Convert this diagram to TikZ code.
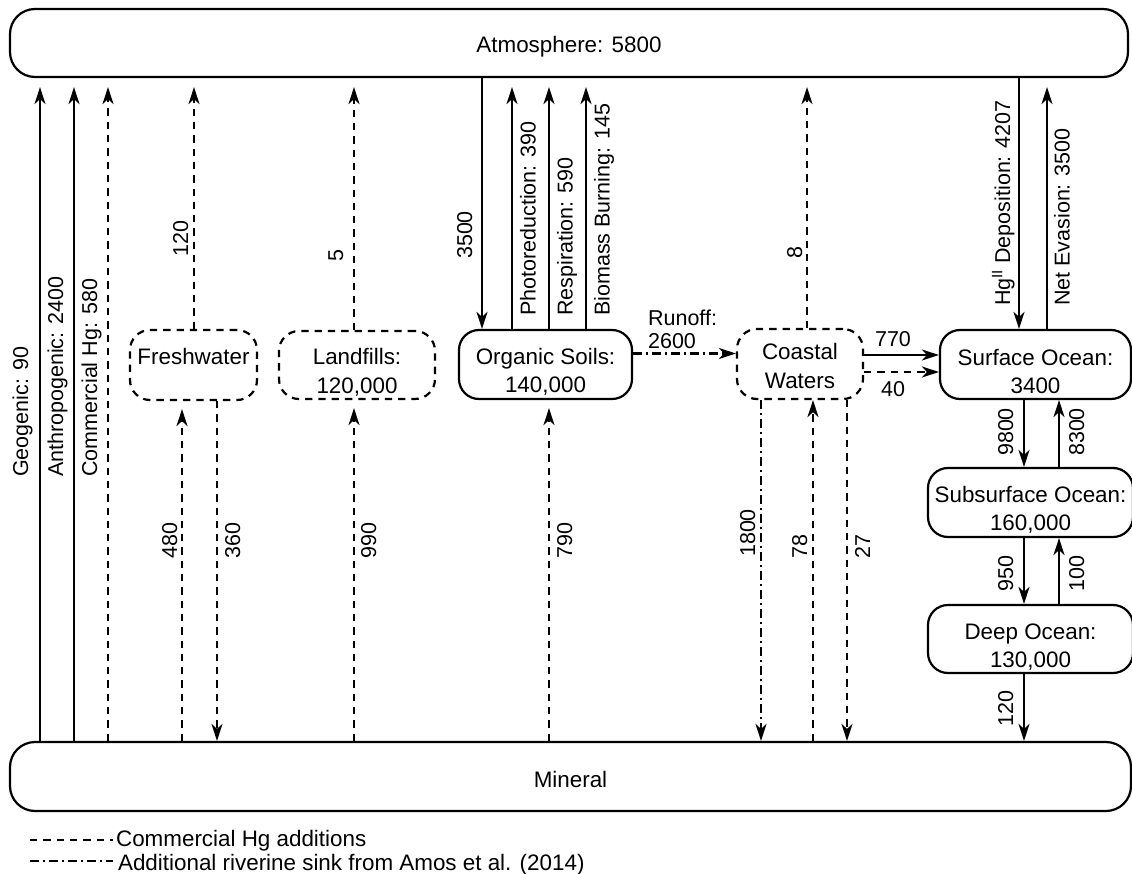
\documentclass[tikz,border=0pt]{standalone}
\usepackage{fontspec}
\setmainfont{Liberation Sans}
\usetikzlibrary{arrows.meta}

\newcommand{\poolfont}{\fontsize{22.4}{28.5}\selectfont}
\newcommand{\fluxfont}{\fontsize{21.5}{23}\selectfont}
\newcommand{\pooldrop}[1]{\rule{0pt}{#1}}

\begin{document}
\begin{tikzpicture}[x=1pt, y=-1pt, line width=2.2pt,
        pool/.style={draw, rounded corners=20pt, align=center, inner sep=0pt, font=\poolfont},
        soft/.style={dash pattern=on 7.3pt off 6pt},
        riv/.style={dash pattern=on 9pt off 4pt on 2pt off 4pt},
        flow/.style={-{Stealth[length=17pt, width=11pt, inset=5pt]}},
        gap/.style={shorten >=9pt},
        lbl left/.style={rotate=90, anchor=base west, inner sep=0pt, font=\fluxfont},
        lbl right/.style={rotate=90, anchor=north west, inner sep=0pt, font=\fluxfont}]
    \useasboundingbox (0,0) rectangle (1132,874);

    % reservoirs
    \node[pool, rounded corners=25pt, minimum width=1118pt, minimum height=68pt] (atm) at (569,43) {\pooldrop{24pt}Atmosphere: 5800};
    \node[pool, rounded corners=25pt, minimum width=1121pt, minimum height=69pt] (min) at (570.5,776.5) {\pooldrop{23pt}Mineral};
    \node[pool, soft, minimum width=127pt, minimum height=70pt] (fw) at (193.5,365) {\pooldrop{28pt}Freshwater\\~};
    \node[pool, soft, minimum width=156pt, minimum height=68pt] (lf) at (357,365) {\pooldrop{31pt}Landfills:\\120,000};
    \node[pool, minimum width=173pt, minimum height=69pt] (org) at (545.5,364.5) {\pooldrop{31pt}Organic Soils:\\140,000};
    \node[pool, soft, minimum width=126pt, minimum height=70pt] (cw) at (800,364) {\pooldrop{20pt}Coastal\\Waters};
    \node[pool, minimum width=191pt, minimum height=69pt] (so) at (1035.5,364.5) {\pooldrop{30pt}Surface Ocean:\\3400};
    \node[pool, minimum width=205pt, minimum height=69pt] (sso) at (1030.5,502.5) {\pooldrop{31pt}Subsurface Ocean:\\160,000};
    \node[pool, minimum width=205pt, minimum height=68pt] (deep) at (1030.5,639) {\pooldrop{32pt}Deep Ocean:\\130,000};

    % emissions up to the atmosphere
    \draw[flow, gap] (min.north -| 40,0) -- (atm.south -| 40,0);
    \draw[flow, gap] (min.north -| 74,0) -- (atm.south -| 74,0);
    \draw[flow, gap, soft] (min.north -| 108,0) -- (atm.south -| 108,0);
    \node[lbl left] (geo) at (28,478) {Geogenic: 90};
    \node[lbl left] (anth) at (63,478) {Anthropogenic: 2400};
    \node[lbl left] (comm) at (97,478) {Commercial Hg: 580};

    % freshwater
    \draw[flow, gap, soft] (fw.north -| 194,0) -- (atm.south -| 194,0);
    \draw[flow, shorten >=8pt, soft] (min.north -| 182,0) -- (fw.south -| 182,0);
    \draw[flow, soft] (fw.south -| 217,0) -- (min.north -| 217,0);
    \node[lbl left] (fwup) at (188,258) {120};
    \node[lbl left] (fwin) at (177,560) {480};
    \node[lbl right] (fwout) at (224,560) {360};

    % landfills
    \draw[flow, gap, soft] (lf.north -| 354,0) -- (atm.south -| 354,0);
    \draw[flow, shorten >=8pt, soft] (min.north -| 354,0) -- (lf.south -| 354,0);
    \node[lbl left] (lfup) at (343,263) {5};
    \node[lbl right] (lfin) at (360,560) {990};

    % organic soils
    \draw[flow] (atm.south -| 482,0) -- (org.north -| 482,0);
    \draw[flow, gap] (org.north -| 512,0) -- (atm.south -| 512,0);
    \draw[flow, gap] (org.north -| 549,0) -- (atm.south -| 549,0);
    \draw[flow, gap] (org.north -| 586,0) -- (atm.south -| 586,0);
    \draw[flow, shorten >=8pt, soft] (min.north -| 549,0) -- (org.south -| 549,0);
    \node[lbl left] (dep) at (472,260) {3500};
    \node[lbl right] (photo) at (519,317) {Photoreduction: 390};
    \node[lbl right] (resp) at (556,317) {Respiration: 590};
    \node[lbl right] (burn) at (593,317) {Biomass Burning: 145};
    \node[lbl right] (orgin) at (556,560) {790};

    % runoff
    \draw[flow, riv] ([yshift=11pt]org.east) -- ([yshift=11pt]org.east -| cw.west);
    \node[anchor=north west, align=left, inner sep=0pt, font=\fluxfont] (run) at (647,309) {Runoff:\\2600};

    % coastal waters
    \draw[flow, gap, soft] (cw.north -| 807,0) -- (atm.south -| 807,0);
    \draw[flow] ([yshift=9pt]cw.east) -- ([yshift=9pt]cw.east -| so.west);
    \draw[flow, soft] ([yshift=-8pt]cw.east) -- ([yshift=-8pt]cw.east -| so.west);
    \draw[flow, riv] (cw.south -| 761,0) -- (min.north -| 761,0);
    \draw[flow, soft] (min.north -| 813,0) -- (cw.south -| 813,0);
    \draw[flow, soft] (cw.south -| 847,0) -- (min.north -| 847,0);
    \node[lbl left] (cwup) at (802,260) {8};
    \node[anchor=base, inner sep=0pt, font=\fluxfont] (toso) at (893,347) {770};
    \node[anchor=north, inner sep=0pt, font=\fluxfont] (toso2) at (893,380) {40};
    \node[lbl left] (riv) at (755,558) {1800};
    \node[lbl left] (cwin) at (807,560) {78};
    \node[lbl right] (cwout) at (854,560) {27};

    % ocean
    \draw[flow] (atm.south -| 1019,0) -- (so.north -| 1019,0);
    \draw[flow, gap] (so.north -| 1047,0) -- (atm.south -| 1047,0);
    \draw[flow] (so.south -| 1024,0) -- (sso.north -| 1024,0);
    \draw[flow] (sso.north -| 1059,0) -- (so.south -| 1059,0);
    \draw[flow] (sso.south -| 1024,0) -- (deep.north -| 1024,0);
    \draw[flow] (deep.north -| 1059,0) -- (sso.south -| 1059,0);
    \draw[flow] (deep.south -| 1024,0) -- (min.north -| 1024,0);
    \node[lbl left] (hgdep) at (1010,307) {Hg\textsuperscript{II} Deposition: 4207};
    \node[lbl right] (evas) at (1053,307) {Net Evasion: 3500};
    \node[lbl left] (down1) at (1013,457) {9800};
    \node[lbl right] (up1) at (1068,457) {8300};
    \node[lbl left] (down2) at (1013,593) {950};
    \node[lbl right] (up2) at (1068,593) {100};
    \node[lbl left] (bury) at (1013,728) {120};

    % legend
    \draw[soft] (30,840) -- (113,840);
    \node[anchor=base west, inner sep=0pt, font=\poolfont] (leg1) at (115,846) {Commercial Hg additions};
    \draw[riv] (30,861) -- (113,861);
    \node[anchor=base west, inner sep=0pt, font=\poolfont] (leg2) at (117,870) {Additional riverine sink from Amos et al. (2014)};
\end{tikzpicture}
\end{document}
